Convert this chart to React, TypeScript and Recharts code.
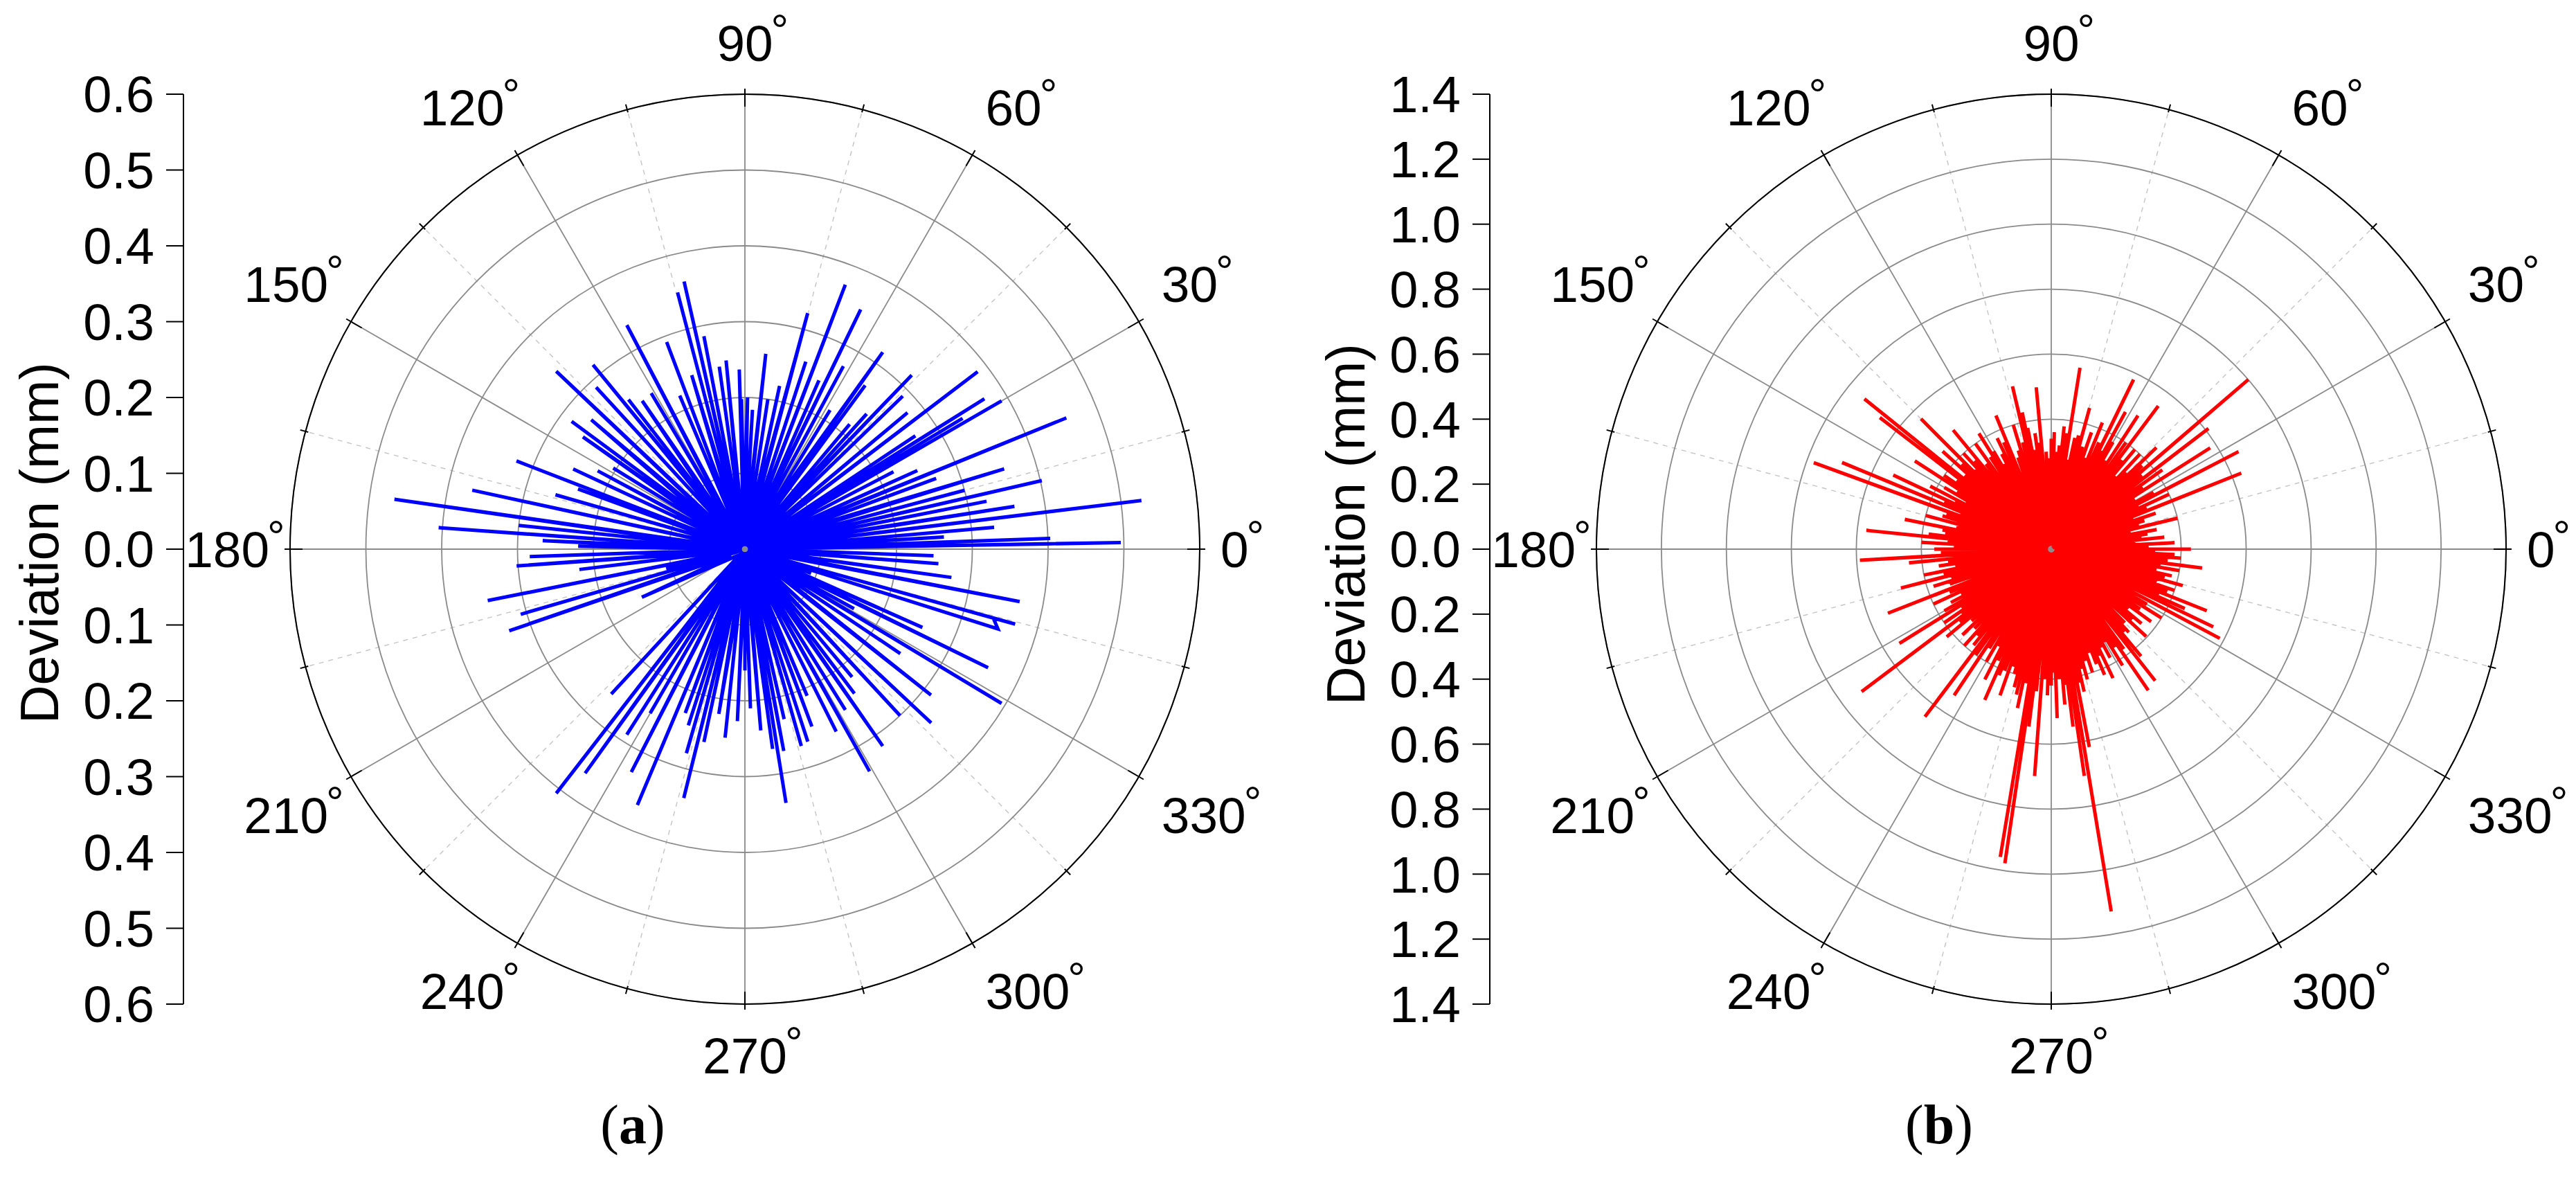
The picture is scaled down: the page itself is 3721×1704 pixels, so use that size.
import { RadarChart, Radar, PolarGrid, PolarAngleAxis, PolarRadiusAxis, ComposedChart, YAxis } from 'recharts'

// [angle (deg), peak deviation (mm), inner end of the stroke (mm)]
const blueSpikes: [number, number, number][] = [
  [1, 0.496, 0.004], [2, 0.403, 0.02], [3.5, 0.263, 0.01], [5, 0.33, 0.03], [7, 0.527, 0.004],
  [9, 0.36, 0.015], [11.2, 0.325, 0.04], [13, 0.402, 0.004], [15, 0.3, 0.02], [17.2, 0.358, 0.01],
  [20.3, 0.269, 0.05], [22.2, 0.458, 0.004], [24.5, 0.25, 0.03], [27.5, 0.221, 0.015], [30, 0.391, 0.004],
  [31, 0.335, 0.02], [32.1, 0.373, 0.01], [33.6, 0.27, 0.04], [37.3, 0.386, 0.004], [40, 0.28, 0.02],
  [44.1, 0.29, 0.01], [46.2, 0.318, 0.004], [48, 0.24, 0.03], [50, 0.215, 0.015], [53.7, 0.268, 0.004],
  [55, 0.317, 0.01], [58.5, 0.215, 0.05], [61.7, 0.274, 0.004], [64.2, 0.351, 0.01], [66.3, 0.243, 0.03],
  [69.2, 0.373, 0.004], [72, 0.26, 0.02], [75.1, 0.322, 0.01], [78, 0.22, 0.04], [81.3, 0.2, 0.015],
  [83.9, 0.259, 0.004], [86.9, 0.184, 0.03], [89, 0.2, 0.01], [91.3, 0.198, 0.05], [91.8, 0.237, 0.004],
  [95.7, 0.25, 0.015], [98, 0.243, 0.03], [100.9, 0.286, 0.004], [102.8, 0.362, 0.01], [104.7, 0.35, 0.02],
  [107, 0.24, 0.004], [110.7, 0.292, 0.04], [113, 0.22, 0.01], [117.8, 0.334, 0.004], [121, 0.24, 0.03],
  [124.7, 0.238, 0.015], [127.9, 0.25, 0.05], [129.5, 0.315, 0.01], [132.6, 0.29, 0.02], [136.7, 0.342, 0.004],
  [139.9, 0.265, 0.03], [143.6, 0.284, 0.06], [145.3, 0.26, 0.015], [148.4, 0.204, 0.04], [152, 0.22, 0.01],
  [155, 0.25, 0.02], [158.9, 0.323, 0.004], [160.2, 0.234, 0.03], [164, 0.26, 0.015], [167.8, 0.368, 0.004],
  [171.9, 0.467, 0.01], [174, 0.3, 0.04], [176, 0.405, 0.004], [177.6, 0.267, 0.02], [179, 0.22, 0.05],
  [182, 0.284, 0.01], [184.2, 0.302, 0.004], [187, 0.22, 0.03], [191.3, 0.346, 0.004], [194, 0.107, 0.015],
  [196.2, 0.308, 0.01], [199.1, 0.329, 0.004], [205, 0.15, 0.02], [227.3, 0.26, 0.01], [232.3, 0.407, 0.004],
  [234.5, 0.363, 0.015], [237.5, 0.29, 0.03], [240, 0.25, 0.01], [243, 0.33, 0.004], [247.2, 0.366, 0.02],
  [250, 0.23, 0.01], [252.2, 0.244, 0.04], [254, 0.28, 0.004], [256.2, 0.338, 0.015], [258, 0.26, 0.03],
  [261, 0.22, 0.01], [264, 0.25, 0.05], [267.5, 0.227, 0.004], [270, 0.16, 0.02], [272, 0.21, 0.01],
  [275, 0.24, 0.004], [277.9, 0.266, 0.03], [279.2, 0.339, 0.004], [280.9, 0.271, 0.015], [283, 0.23, 0.04],
  [286, 0.27, 0.01], [288.1, 0.267, 0.02], [290.7, 0.25, 0.004], [293, 0.21, 0.03], [296.6, 0.269, 0.01],
  [299.3, 0.336, 0.004], [302, 0.25, 0.02], [305, 0.317, 0.01], [307.2, 0.239, 0.04], [310, 0.22, 0.015],
  [313, 0.3, 0.004], [317, 0.336, 0.02], [321.9, 0.312, 0.01], [326.1, 0.247, 0.03], [329, 0.395, 0.004],
  [331.4, 0.164, 0.015], [334, 0.357, 0.01], [336.2, 0.256, 0.04], [340, 0.093, 0.02], [342.5, 0.35, 0.01],
  [344.5, 0.37, 0.34], [349.2, 0.369, 0.004], [352.2, 0.275, 0.03], [355.7, 0.256, 0.01], [358, 0.249, 0.02],
]

const redSpikes: [number, number, number][] = [
  [0, 0.43, 0.02], [1.5, 0.3, 0.045], [3, 0.38, 0.01], [4.5, 0.26, 0.055], [6, 0.35, 0.025],
  [7.5, 0.28, 0.04], [9, 0.3, 0.015], [10.5, 0.33, 0.05], [12, 0.25, 0.03], [13.8, 0.4, 0.01],
  [15.5, 0.28, 0.045], [17, 0.3, 0.02], [19, 0.34, 0.06], [20.5, 0.27, 0.035], [21.8, 0.63, 0.015],
  [23.5, 0.32, 0.05], [25, 0.4, 0.025], [26.5, 0.3, 0.04], [27.5, 0.65, 0.01], [29, 0.36, 0.055],
  [30.5, 0.3, 0.03], [32.5, 0.58, 0.02], [34, 0.34, 0.045], [35.5, 0.42, 0.015], [37.5, 0.61, 0.035],
  [39, 0.36, 0.06], [40.7, 0.8, 0.005], [42.5, 0.38, 0.04], [44, 0.45, 0.02], [45.5, 0.33, 0.05],
  [47, 0.4, 0.025], [48.5, 0.3, 0.045], [50, 0.4, 0.015], [51.5, 0.35, 0.055], [53.2, 0.55, 0.03],
  [55, 0.4, 0.01], [57, 0.49, 0.04], [58.5, 0.32, 0.02], [60, 0.38, 0.05], [61.6, 0.48, 0.025],
  [63, 0.34, 0.045], [64.1, 0.58, 0.015], [66, 0.36, 0.06], [68, 0.42, 0.03], [69.5, 0.3, 0.04],
  [71, 0.38, 0.01], [73, 0.33, 0.05], [74.8, 0.45, 0.025], [76.5, 0.36, 0.045], [78, 0.35, 0.02],
  [79.5, 0.28, 0.055], [81, 0.565, 0.015], [82.5, 0.36, 0.035], [84, 0.38, 0.045], [85.5, 0.32, 0.025],
  [87, 0.3, 0.06], [88.5, 0.36, 0.02], [90, 0.34, 0.04], [91.5, 0.28, 0.01], [93, 0.3, 0.05],
  [95.3, 0.5, 0.025], [96.5, 0.33, 0.045], [98, 0.36, 0.015], [99.5, 0.31, 0.055], [101, 0.38, 0.03],
  [102, 0.43, 0.04], [103.4, 0.515, 0.01], [105, 0.34, 0.05], [107, 0.4, 0.025], [108.5, 0.32, 0.045],
  [110, 0.3, 0.02], [112.5, 0.445, 0.035], [114, 0.36, 0.055], [116, 0.38, 0.015], [117.5, 0.33, 0.04],
  [119, 0.3, 0.025], [120.5, 0.35, 0.05], [122, 0.42, 0.01], [123.5, 0.34, 0.045], [125.7, 0.4, 0.03],
  [127.5, 0.33, 0.055], [129.5, 0.475, 0.02], [131, 0.36, 0.04], [132.5, 0.4, 0.015], [134, 0.34, 0.05],
  [135, 0.567, 0.025], [136.5, 0.38, 0.045], [138, 0.45, 0.01], [139.5, 0.35, 0.055], [141.2, 0.738, 0.02],
  [142.5, 0.665, 0.035], [144, 0.36, 0.05], [145.5, 0.4, 0.015], [147.1, 0.5, 0.03], [148.5, 0.34, 0.045],
  [150, 0.38, 0.02], [151.5, 0.3, 0.06], [152.5, 0.42, 0.025], [154, 0.33, 0.04], [154.9, 0.537, 0.01],
  [156.5, 0.36, 0.05], [157.5, 0.697, 0.02], [159, 0.3, 0.045], [160, 0.778, 0.015], [161.5, 0.34, 0.055],
  [163, 0.35, 0.03], [165, 0.4, 0.01], [166.5, 0.3, 0.045], [168.5, 0.46, 0.025], [170, 0.34, 0.05],
  [171.5, 0.33, 0.015], [173, 0.38, 0.04], [174.2, 0.572, 0.02], [175.5, 0.32, 0.055], [177, 0.4, 0.03],
  [178.5, 0.3, 0.045], [180, 0.36, 0.01], [181.5, 0.34, 0.05], [183.3, 0.59, 0.025], [185.5, 0.44, 0.04],
  [187, 0.32, 0.015], [188.5, 0.35, 0.055], [190, 0.3, 0.03], [191.5, 0.4, 0.045], [193, 0.34, 0.02],
  [194.5, 0.478, 0.035], [196, 0.32, 0.06], [197.5, 0.38, 0.015], [199, 0.33, 0.04], [201.4, 0.54, 0.025],
  [203, 0.34, 0.05], [205, 0.4, 0.01], [206.5, 0.31, 0.045], [208, 0.35, 0.03], [210, 0.38, 0.055],
  [211.8, 0.55, 0.02], [213, 0.33, 0.04], [214.5, 0.4, 0.015], [216, 0.34, 0.05], [216.9, 0.73, 0.025],
  [218.5, 0.36, 0.045], [220, 0.42, 0.01], [222, 0.33, 0.055], [224, 0.38, 0.03], [226, 0.34, 0.04],
  [228, 0.4, 0.02], [229.5, 0.35, 0.05], [231, 0.38, 0.015], [233, 0.646, 0.035], [234.5, 0.4, 0.045],
  [236.4, 0.54, 0.025], [238, 0.36, 0.06], [240, 0.4, 0.01], [241.5, 0.34, 0.04], [243, 0.45, 0.02],
  [244.5, 0.38, 0.05], [246.2, 0.507, 0.03], [247.5, 0.42, 0.045], [249, 0.4, 0.015], [250.7, 0.477, 0.035],
  [252, 0.38, 0.055], [253.5, 0.4, 0.025], [255, 0.44, 0.01], [256.5, 0.46, 0.04], [258, 0.5, 0.02],
  [259.5, 0.42, 0.05], [260.6, 0.96, 0.015], [261.6, 0.977, 0.03], [262.8, 0.55, 0.045], [264, 0.44, 0.02],
  [265.8, 0.7, 0.01], [267, 0.4, 0.055], [268.5, 0.45, 0.025], [270, 0.42, 0.04], [271, 0.38, 0.015],
  [272, 0.52, 0.03], [273.5, 0.4, 0.05], [275, 0.48, 0.02], [276, 0.42, 0.045], [277, 0.55, 0.01],
  [278.3, 0.705, 0.035], [279.4, 1.13, 0.015], [280.9, 0.62, 0.025], [282, 0.42, 0.055], [283, 0.45, 0.02],
  [284.5, 0.38, 0.04], [285.5, 0.416, 0.01], [287, 0.36, 0.05], [288.5, 0.4, 0.03], [290, 0.34, 0.045],
  [291.5, 0.38, 0.015], [293, 0.42, 0.035], [294.5, 0.36, 0.055], [295.6, 0.44, 0.02], [297, 0.34, 0.04],
  [298.5, 0.38, 0.025], [300, 0.33, 0.05], [301.5, 0.42, 0.01], [303, 0.36, 0.045], [304.5, 0.527, 0.03],
  [306, 0.38, 0.055], [308.3, 0.516, 0.015], [310, 0.43, 0.035], [311.5, 0.34, 0.045], [313, 0.35, 0.02],
  [315, 0.32, 0.06], [317.4, 0.397, 0.025], [319, 0.33, 0.04], [320.5, 0.36, 0.01], [322, 0.3, 0.05],
  [324, 0.38, 0.03], [326, 0.33, 0.045], [328, 0.4, 0.015], [330, 0.34, 0.055], [332.1, 0.587, 0.025],
  [334.4, 0.553, 0.035], [336, 0.45, 0.02], [337, 0.36, 0.05], [338.4, 0.515, 0.01], [340, 0.38, 0.04],
  [341.5, 0.4, 0.025], [343, 0.34, 0.055], [344.5, 0.42, 0.015], [346, 0.36, 0.045], [347.5, 0.38, 0.03],
  [349, 0.33, 0.05], [350.5, 0.4, 0.02], [352, 0.34, 0.04], [352.9, 0.468, 0.01], [354.5, 0.36, 0.055],
  [356, 0.4, 0.025], [357.5, 0.38, 0.045], [359, 0.32, 0.015],
]

const angleTicks = [0, 15, 30, 45, 60, 75, 90, 105, 120, 135, 150, 165, 180, 195, 210, 225, 240, 255, 270, 285, 300, 315, 330, 345]
const majorAngles = [0, 30, 60, 90, 120, 150, 180, 210, 240, 270, 300, 330]
const minorAngles = [15, 45, 75, 105, 135, 165, 195, 225, 255, 285, 315, 345]

const radiusTicksA = [0, 0.1, 0.2, 0.3, 0.4, 0.5, 0.6]
const axisTicksA = [-0.6, -0.5, -0.4, -0.3, -0.2, -0.1, 0, 0.1, 0.2, 0.3, 0.4, 0.5, 0.6]
const radiusTicksB = [0, 0.2, 0.4, 0.6, 0.8, 1.0, 1.2, 1.4]
const axisTicksB = [-1.4, -1.2, -1.0, -0.8, -0.6, -0.4, -0.2, 0, 0.2, 0.4, 0.6, 0.8, 1.0, 1.2, 1.4]

const FONT = '"Liberation Sans", Arial, sans-serif'
const H = 1704
const CX = 1076
const CY = 793
const R = 657
const LABEL_SIZE = 73
const DIGIT_W = 0.556 * LABEL_SIZE
const HALF_BOX_H = 36

// Origin-style placement: the label box corner (or edge) nearest the rim sits a small gap outside it
function AngleTick(props: any) {
  const { x, y, payload } = props
  const deg = payload.value
  const rad = ((payload.coordinate ?? deg) * Math.PI) / 180
  const ux = Math.cos(rad)
  const uy = -Math.sin(rad)
  const major = deg % 30 === 0
  const len = major ? 26 : 12
  const text = String(deg)
  const w = text.length * DIGIT_W
  const horiz = Math.abs(uy) < 0.01
  const vert = Math.abs(ux) < 0.01
  const gap = horiz ? 22 : 30
  const px = x + ux * gap
  const py = y + uy * gap
  const lx = px + (vert ? 0 : Math.sign(ux) * (w / 2))
  const ly = py + (horiz ? 0 : Math.sign(uy) * HALF_BOX_H)
  return (
    <g>
      <line x1={x} y1={y} x2={x - ux * len} y2={y - uy * len} stroke="#000" strokeWidth={2} />
      {major && (
        <g fontFamily={FONT} fill="#000">
          <text x={lx} y={ly + 26} textAnchor="middle" fontSize={LABEL_SIZE}>
            {text}
          </text>
          <text x={lx + w / 2 - 3} y={ly + 4} textAnchor="start" fontSize={64}>
            °
          </text>
        </g>
      )}
    </g>
  )
}

interface PanelProps {
  left: number
  width: number
  spikes: [number, number, number][]
  color: string
  radiusTicks: number[]
  axisTicks: number[]
  maxR: number
  caption: string
  titleY: number
}

function Panel({ left, width, spikes, color, radiusTicks, axisTicks, maxR, caption, titleY }: PanelProps) {
  const rows = spikes.flatMap(([angle, peak, base]) => [
    { angle, r: base },
    { angle, r: peak },
  ])
  const axisRows = axisTicks.map((v) => ({ v }))

  return (
    <div style={{ position: 'absolute', left, top: 0, width, height: H }}>
      <div style={{ position: 'absolute', left: 0, top: 0 }}>
        <ComposedChart
          width={300}
          height={H}
          data={axisRows}
          margin={{ top: CY - R, bottom: H - CY - R, left: 0, right: 20 }}
        >
          <YAxis
            type="number"
            domain={[-maxR, maxR]}
            ticks={axisTicks}
            interval={0}
            allowDataOverflow
            allowDecimals
            width={265}
            tickFormatter={(v: number) => Math.abs(v).toFixed(1)}
            axisLine={{ stroke: '#000', strokeWidth: 2 }}
            tickLine={{ stroke: '#000', strokeWidth: 2 }}
            tickSize={25}
            tickMargin={17}
            tick={{ fill: '#000', fontSize: 74, fontFamily: FONT }}
          />
        </ComposedChart>
      </div>
      <div style={{ position: 'absolute', left: 0, top: 0 }}>
        <RadarChart
          width={width}
          height={H}
          cx={CX}
          cy={CY}
          outerRadius={R}
          innerRadius={0}
          startAngle={0}
          endAngle={360}
          data={rows}
          margin={{ top: 0, right: 0, bottom: 0, left: 0 }}
        >
          <PolarGrid
            gridType="circle"
            polarAngles={minorAngles}
            polarRadius={[]}
            stroke="#c4c4c4"
            strokeWidth={1.4}
            strokeDasharray="7 7"
          />
          <PolarGrid gridType="circle" polarAngles={majorAngles} stroke="#8a8a8a" strokeWidth={1.8} />
          <PolarRadiusAxis
            type="number"
            scale="linear"
            domain={[0, maxR]}
            allowDataOverflow
            allowDecimals
            ticks={radiusTicks}
            tickCount={radiusTicks.length}
            tick={false}
            axisLine={false}
            tickLine={false}
          />
          <Radar
            dataKey="r"
            stroke={color}
            strokeWidth={5}
            fill="none"
            fillOpacity={0}
            dot={false}
            isAnimationActive={false}
          />
          <PolarAngleAxis
            dataKey="angle"
            type="number"
            domain={[0, 360]}
            ticks={angleTicks}
            tick={AngleTick}
            tickLine={false}
            tickSize={0}
            axisLineType="circle"
            stroke="#000"
            axisLine={{ stroke: '#000', strokeWidth: 2 }}
          />
        </RadarChart>
      </div>
      <svg width={width} height={H} style={{ position: 'absolute', left: 0, top: 0, pointerEvents: 'none' }}>
        <text
          transform={`translate(84, ${titleY}) rotate(-90)`}
          textAnchor="middle"
          fontFamily={FONT}
          fontSize={77}
          fill="#000"
        >
          Deviation (mm)
        </text>
        <text x={914} y={1651} textAnchor="middle" fontFamily='"Liberation Serif", "Times New Roman", serif' fontSize={80} fill="#000">
          (<tspan fontWeight="bold">{caption}</tspan>)
        </text>
      </svg>
    </div>
  )
}

export default function App() {
  return (
    <div style={{ position: 'relative', width: 3721, height: H, background: '#fff' }}>
      <style>{'body{margin:0;background:#fff}'}</style>
      <Panel
        left={0}
        width={1880}
        spikes={blueSpikes}
        color="#0000ff"
        radiusTicks={radiusTicksA}
        axisTicks={axisTicksA}
        maxR={0.6}
        caption="a"
        titleY={784}
      />
      <Panel
        left={1887}
        width={1834}
        spikes={redSpikes}
        color="#ff0000"
        radiusTicks={radiusTicksB}
        axisTicks={axisTicksB}
        maxR={1.4}
        caption="b"
        titleY={757}
      />
    </div>
  )
}
